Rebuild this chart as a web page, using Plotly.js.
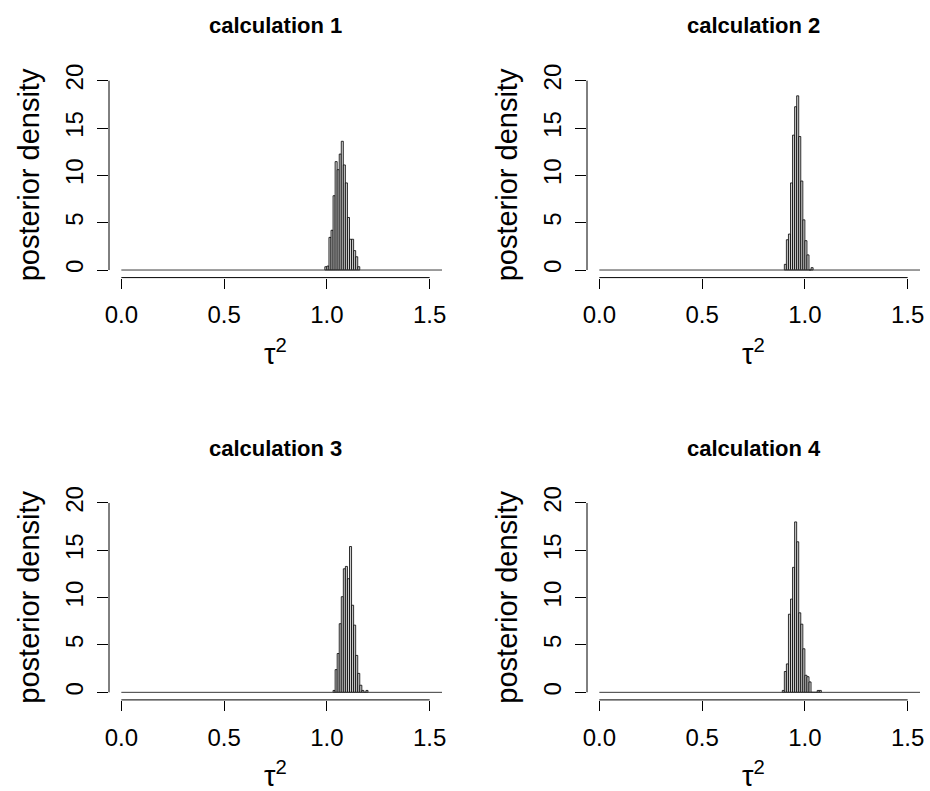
<!DOCTYPE html>
<html>
<head>
<meta charset="utf-8">
<script src="https://cdn.plot.ly/plotly-3.0.1.min.js"></script>
<style>html,body{margin:0;padding:0;background:#fff;}#chart{width:930px;height:791px;}</style>
</head>
<body>
<div id="chart"></div>
<script>
// ---- data (histogram bin left edges and posterior densities) ----
const binWidth = 0.01;
const histRange = [0, 1.56];           // range of the histogram breaks
const panelTitles = ["calculation 1", "calculation 2", "calculation 3", "calculation 4"];
const xTickVals = [0, 0.5, 1.0, 1.5];
const xTickText = ["0.0", "0.5", "1.0", "1.5"];
const yTickVals = [0, 5, 10, 15, 20];
const yTickText = ["0", "5", "10", "15", "20"];
const xLabel = "τ<sup>2</sup>";
const yLabel = "posterior density";

const bins1 = [0.99, 1.00, 1.01, 1.02, 1.03, 1.04, 1.05, 1.06, 1.07, 1.08, 1.09, 1.10, 1.11, 1.12, 1.13, 1.14, 1.15];
const dens1 = [0.35, 0.42, 3.45, 4.2, 7.85, 11.45, 10.6, 12.25, 13.6, 11.1, 9.2, 5.55, 3.25, 3.25, 2.05, 1.4, 0.35];

const bins2 = [0.90, 0.91, 0.92, 0.93, 0.94, 0.95, 0.96, 0.97, 0.98, 0.99, 1.00, 1.01, 1.02, 1.03];
const dens2 = [0.6, 3.2, 3.8, 9.2, 14.25, 17.25, 18.4, 14.1, 9.4, 5.3, 3.1, 1.6, 0, 0.25];

const bins3 = [1.03, 1.04, 1.05, 1.06, 1.07, 1.08, 1.09, 1.10, 1.11, 1.12, 1.13, 1.14, 1.15, 1.16, 1.17, 1.18, 1.19];
const dens3 = [0.2, 2.4, 4.1, 7.25, 10.1, 13.05, 13.3, 12.0, 15.4, 9.2, 7.1, 3.9, 2.0, 0.75, 0.2, 0, 0.2];

const bins4 = [0.89, 0.90, 0.91, 0.92, 0.93, 0.94, 0.95, 0.96, 0.97, 0.98, 0.99, 1.00, 1.01, 1.02, 1.03, 1.04, 1.05, 1.06, 1.07];
const dens4 = [0.2, 2.2, 3.0, 8.25, 9.85, 13.2, 18.0, 15.9, 8.4, 7.2, 4.6, 1.8, 1.65, 1.1, 0, 0, 0, 0.2, 0.2];

const allBins = [bins1, bins2, bins3, bins4];
const allDens = [dens1, dens2, dens3, dens4];

// ---- layout geometry (pixels) ----
const W = 930, H = 791;
const colX = [[109, 442], [587, 920]];
const rowY = [[73.1, 277.6], [495.4, 699.9]];
const FONT = "Liberation Sans, Arial, Helvetica, sans-serif";

const traces = [];
const layout = {
  width: W, height: H,
  margin: {l: 0, r: 0, t: 0, b: 0, pad: 0},
  paper_bgcolor: "#ffffff", plot_bgcolor: "#ffffff",
  showlegend: false, barmode: "overlay",
  font: {family: FONT, color: "#000"},
  shapes: [], annotations: []
};

for (let p = 0; p < 4; p++) {
  const col = p % 2, row = Math.floor(p / 2);
  const xa = p === 0 ? "x" : "x" + (p + 1);
  const ya = p === 0 ? "y" : "y" + (p + 1);
  const xk = p === 0 ? "xaxis" : "xaxis" + (p + 1);
  const yk = p === 0 ? "yaxis" : "yaxis" + (p + 1);
  const [x0, x1] = colX[col];
  const [yt, yb] = rowY[row];

  // baseline formed by the empty bins
  traces.push({
    type: "scatter", mode: "lines", x: histRange, y: [0, 0],
    xaxis: xa, yaxis: ya, line: {color: "#3a3a3a", width: 1},
    hoverinfo: "skip"
  });
  traces.push({
    type: "bar", x: allBins[p], y: allDens[p], width: binWidth, offset: 0,
    xaxis: xa, yaxis: ya,
    marker: {color: "#cfcfcf", line: {color: "#000", width: 0.8}},
    hoverinfo: "x+y"
  });

  const xRight = col === 1 ? -0.06 + (x1 - x0) / 205.6 : 1.56;
  layout[xk] = {
    domain: [x0 / W, x1 / W], range: [-0.06, 1.56], anchor: ya,
    showgrid: false, zeroline: false, showline: false,
    ticks: "outside", ticklen: 10, tickwidth: 1, tickcolor: "#000",
    tickvals: xTickVals, ticktext: xTickText,
    tickfont: {size: 24, family: FONT, color: "#000"}, ticklabelstandoff: 6
  };
  layout[yk] = {
    domain: [1 - yb / H, 1 - yt / H], range: [-0.8, 20.8], anchor: xa,
    showgrid: false, zeroline: false, showline: false,
    ticks: "outside", ticklen: 11, tickwidth: 1, tickcolor: "#000",
    tickvals: yTickVals, ticktext: yTickText, tickangle: -90,
    tickfont: {size: 24, family: FONT, color: "#000"}, ticklabelstandoff: 4
  };
  // R-style axis lines spanning first to last tick
  layout.shapes.push({type: "line", xref: xa, yref: ya + " domain",
    x0: xTickVals[0], x1: xTickVals[xTickVals.length - 1], y0: 0, y1: 0,
    line: {color: "#000", width: 1}});
  layout.shapes.push({type: "line", xref: xa + " domain", yref: ya,
    x0: 0, x1: 0, y0: yTickVals[0], y1: yTickVals[yTickVals.length - 1],
    line: {color: "#000", width: 1}});

  const cx = (x0 + x1) / 2;
  const rowOff = row * 422.3;
  layout.annotations.push({text: "<b>" + panelTitles[p] + "</b>", xref: "paper", yref: "paper",
    x: cx / W, y: 1 - (26 + rowOff) / H, xanchor: "center", yanchor: "middle",
    showarrow: false, font: {size: 22, family: FONT, color: "#000"}});
  layout.annotations.push({text: xLabel, xref: "paper", yref: "paper",
    x: cx / W, y: 1 - (352 + rowOff) / H, xanchor: "center", yanchor: "middle",
    showarrow: false, font: {size: 29, family: FONT, color: "#000"}});
  layout.annotations.push({text: yLabel, xref: "paper", yref: "paper", textangle: -90,
    x: (29 + col * 478) / W, y: 1 - ((yt + yb) / 2) / H, xanchor: "center", yanchor: "middle",
    showarrow: false, font: {size: 29, family: FONT, color: "#000"}});
}

Plotly.newPlot("chart", traces, layout, {displayModeBar: false, staticPlot: true});
</script>
</body>
</html>
